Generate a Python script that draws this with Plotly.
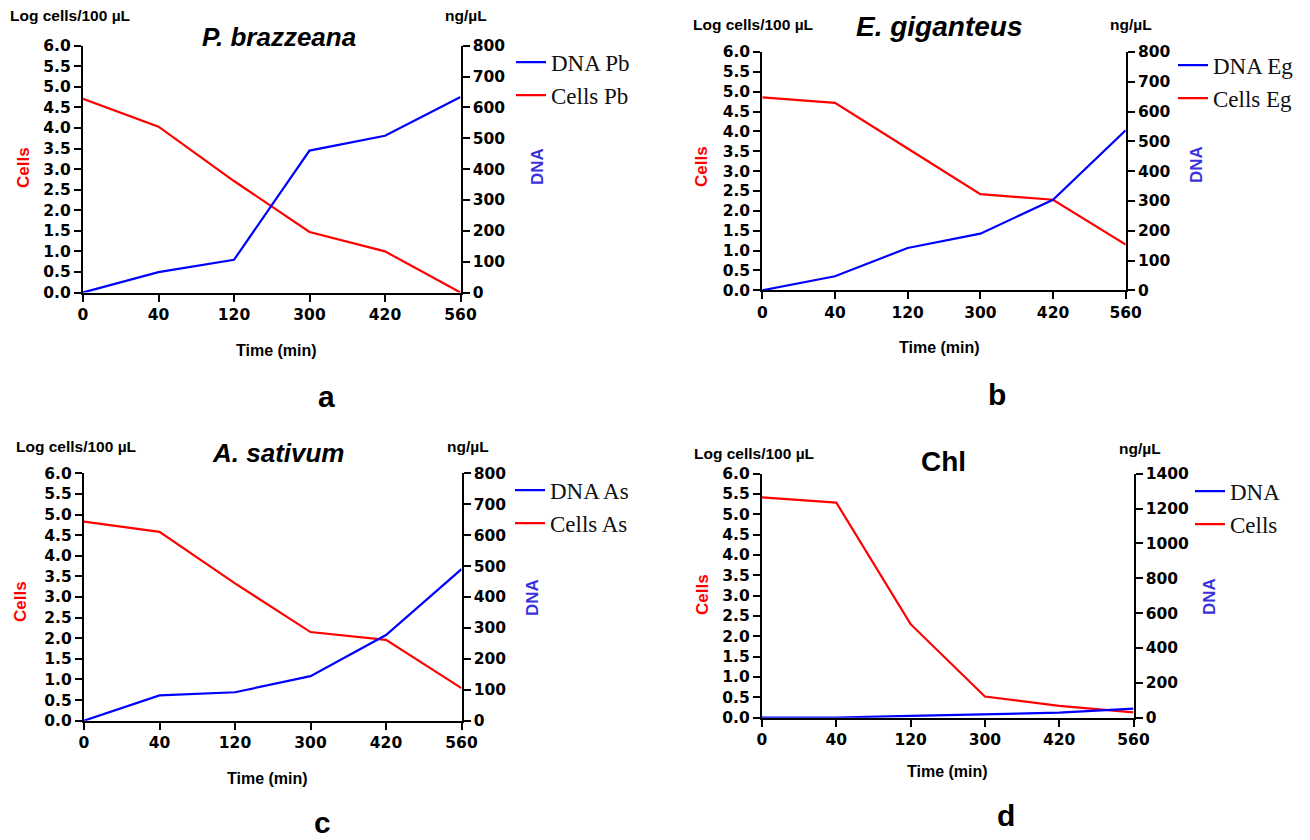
import plotly.graph_objects as go

# The page body adds an 8 px margin; the figure is sized to fill the rest of the window.
PAGE_MARGIN = 8
W, H = 1310 - PAGE_MARGIN, 840 - PAGE_MARGIN

time_labels = ["0", "40", "120", "300", "420", "560"]

cells_pb = [4.71, 4.03, 2.71, 1.47, 1.00, 0.00]
dna_pb = [0, 66, 106, 460, 508, 634]

cells_eg = [4.86, 4.72, 3.57, 2.42, 2.28, 1.15]
dna_eg = [0, 47, 142, 190, 304, 537]

cells_as = [4.83, 4.58, 3.33, 2.15, 1.96, 0.79]
dna_as = [0, 82, 92, 144, 277, 490]

cells_chl = [5.42, 5.29, 2.30, 0.52, 0.29, 0.13]
dna_chl = [0, 1, 10, 21, 29, 52]

left_ticks = [0.0, 0.5, 1.0, 1.5, 2.0, 2.5, 3.0, 3.5, 4.0, 4.5, 5.0, 5.5, 6.0]
right_ticks_800 = [0, 100, 200, 300, 400, 500, 600, 700, 800]
right_ticks_1400 = [0, 200, 400, 600, 800, 1000, 1200, 1400]

panels = [
    dict(title="<i>P. brazzeana</i>", tsize=26, letter="a", cells=cells_pb, dna=dna_pb,
         cname="Cells Pb", dname="DNA Pb", rticks=right_ticks_800, rmax=800,
         box=(83, 460.5, 45.7, 292.5)),
    dict(title="<i>E. giganteus</i>", tsize=28, letter="b", cells=cells_eg, dna=dna_eg,
         cname="Cells Eg", dname="DNA Eg", rticks=right_ticks_800, rmax=800,
         box=(762.3, 1125.7, 52, 290.3)),
    dict(title="<i>A. sativum</i>", tsize=26, letter="c", cells=cells_as, dna=dna_as,
         cname="Cells As", dname="DNA As", rticks=right_ticks_800, rmax=800,
         box=(84, 461.5, 473.3, 720.7)),
    dict(title="Chl", tsize=28, letter="d", cells=cells_chl, dna=dna_chl,
         cname="Cells", dname="DNA", rticks=right_ticks_1400, rmax=1400,
         box=(762, 1133.5, 473.7, 717.7)),
]

text_pos = [
    dict(title=(279, 37), logc=(70, 16), ng=(466, 16), cl=(23, 168), dl=(538, 167),
         time=(276, 350), letter=(326, 396), leg=(514, 62.7)),
    dict(title=(939, 27), logc=(753, 24), ng=(1131, 24), cl=(702, 167), dl=(1196, 165),
         time=(939, 347), letter=(997, 394), leg=(1176, 65.7)),
    dict(title=(278, 453), logc=(76, 447), ng=(468, 447), cl=(20, 602), dl=(532, 598),
         time=(267, 778), letter=(322, 822), leg=(513, 490.7)),
    dict(title=(943, 461), logc=(754, 453), ng=(1140, 449), cl=(702, 595), dl=(1209, 597),
         time=(948, 771), letter=(1006, 815), leg=(1193, 491.7)),
]

fig = go.Figure()


def px(x):
    return (x - PAGE_MARGIN) / W


def py(y):
    return 1 - (y - PAGE_MARGIN) / H


TICKFONT = dict(family="DejaVu Sans", size=15.5, color="black", weight="bold")
RED = "#ff0000"
BLUE = "#0000ff"
LABEL_BLUE = "#3a30e0"

annotations = []
layout = {}
for i, (p, t) in enumerate(zip(panels, text_pos)):
    n = i + 1
    xa = f"xaxis{2*i+1 if i else ''}"
    xref = f"x{2*i+1}" if i else "x"
    yl = 2 * i + 1
    yr = 2 * i + 2
    yl_name = f"yaxis{yl if yl > 1 else ''}"
    yr_name = f"yaxis{yr}"
    yl_ref = f"y{yl if yl > 1 else ''}"
    yr_ref = f"y{yr}"
    x0, x1, ytop, ybot = p["box"]
    leg_name = "legend" if n == 1 else f"legend{n}"

    fig.add_trace(go.Scatter(
        x=time_labels, y=p["dna"], mode="lines", name=p["dname"],
        line=dict(color=BLUE, width=2.2), xaxis=xref, yaxis=yr_ref,
        legend=leg_name, legendgroup=f"d{n}"))
    fig.add_trace(go.Scatter(
        x=time_labels, y=p["cells"], mode="lines", name=p["cname"],
        line=dict(color=RED, width=2.2), xaxis=xref, yaxis=yl_ref,
        legend=leg_name, legendgroup=f"c{n}"))

    common = dict(showline=True, linecolor="black", linewidth=2.2,
                  ticks="outside", ticklen=7, tickwidth=2.2, tickcolor="black",
                  tickfont=TICKFONT, showgrid=False, zeroline=False,
                  automargin=False, layer="below traces")
    layout[xa] = dict(
        domain=[px(x0), px(x1)], anchor=yl_ref, type="category",
        categoryorder="array", categoryarray=time_labels,
        range=[0, 5], **common)
    layout[yl_name] = dict(
        domain=[py(ybot), py(ytop)], anchor=xref, range=[0, 6],
        tickvals=left_ticks, ticktext=[f"{v:.1f}" for v in left_ticks], **common)
    layout[yr_name] = dict(
        overlaying=yl_ref, side="right", anchor=xref, range=[0, p["rmax"]],
        tickvals=p["rticks"], **common)

    lx, ly = t["leg"]
    layout[leg_name] = dict(
        x=px(lx - 3), y=py(ly - 22), xanchor="left", yanchor="top",
        bgcolor="rgba(0,0,0,0)", borderwidth=0, tracegroupgap=0,
        font=dict(family="Liberation Serif", size=23, color="#111"),
        traceorder="grouped")

    def ann(text, pos, size, color="black", angle=0, family="Liberation Sans"):
        annotations.append(dict(
            text=text, x=px(pos[0]), y=py(pos[1]), xref="paper", yref="paper",
            showarrow=False, xanchor="center", yanchor="middle", textangle=angle,
            font=dict(family=family, size=size, color=color, weight="bold")))

    ann(p["title"], t["title"], p["tsize"])
    ann("Log cells/100 µL", t["logc"], 15.5)
    ann("ng/µL", t["ng"], 15.5)
    ann("Cells", t["cl"], 17, color=RED, angle=-90)
    ann("DNA", t["dl"], 17, color=LABEL_BLUE, angle=-90)
    ann("Time (min)", t["time"], 16)
    ann(p["letter"], t["letter"], 30)

fig.update_layout(
    width=W, height=H, margin=dict(l=0, r=0, t=0, b=0, autoexpand=False),
    paper_bgcolor="white", plot_bgcolor="white",
    showlegend=True, annotations=annotations, **layout)

fig.write_html("out.html")
